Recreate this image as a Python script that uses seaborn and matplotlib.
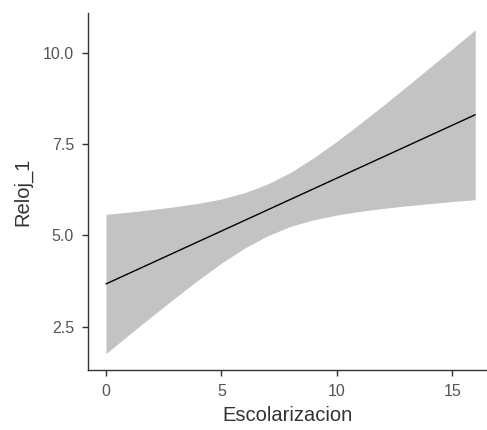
import matplotlib
matplotlib.use('Agg')
import matplotlib.pyplot as plt
import seaborn as sns
import pandas as pd

# Values
escolarizacion = [0, 1, 2, 3, 4, 5, 6, 7, 8, 9, 10, 11, 12, 13, 14, 15, 16]
reloj_fit      = [3.67, 3.96, 4.25, 4.54, 4.83, 5.12, 5.41, 5.70, 5.99,
                  6.28, 6.57, 6.86, 7.15, 7.44, 7.73, 8.02, 8.31]
reloj_lower    = [1.76, 2.28, 2.79, 3.29, 3.78, 4.24, 4.65, 4.99, 5.25,
                  5.43, 5.56, 5.66, 5.74, 5.81, 5.87, 5.93, 5.98]
reloj_upper    = [5.58, 5.64, 5.71, 5.79, 5.88, 6.00, 6.17, 6.41, 6.73,
                  7.13, 7.58, 8.06, 8.56, 9.07, 9.59, 10.11, 10.64]
x_ticks = [0, 5, 10, 15]
y_ticks = [2.5, 5.0, 7.5, 10.0]

df = pd.DataFrame({"Escolarizacion": escolarizacion, "Reloj_1": reloj_fit,
                   "lower": reloj_lower, "upper": reloj_upper})

sns.set_theme(style="ticks")
plt.rcParams['font.family'] = ['Liberation Sans', 'DejaVu Sans']

fig = plt.figure(figsize=(4.87, 4.30), dpi=100)
ax = fig.add_axes([88 / 487, 1 - 370 / 430, 1 - 88 / 487, (370 - 13) / 430])

# confidence band + fitted line
ax.fill_between(df["Escolarizacion"], df["lower"], df["upper"],
                color='#C3C3C3', linewidth=0, zorder=1)
sns.lineplot(data=df, x="Escolarizacion", y="Reloj_1", color='black',
             linewidth=1.0, ax=ax, zorder=2)

ax.set_xlim(-0.78, 16.51)
ax.set_ylim(1.31, 11.1)
ax.set_xticks(x_ticks)
ax.set_xticklabels([str(t) for t in x_ticks])
ax.set_yticks(y_ticks)
ax.set_yticklabels([f"{t:.1f}" for t in y_ticks])

for side in ['top', 'right']:
    ax.spines[side].set_visible(False)
for side in ['left', 'bottom']:
    ax.spines[side].set_color('#333333')
    ax.spines[side].set_linewidth(1.0)

ax.tick_params(axis='both', direction='out', length=4, width=1.0,
               color='#333333', labelcolor='#555555', labelsize=11.5, pad=6)
ax.set_xlabel("Escolarizacion", fontsize=14.5, color='#333333', labelpad=5)
ax.set_ylabel("Reloj_1", fontsize=14.5, color='#333333', labelpad=8)

fig.savefig("out.png", dpi=100)
